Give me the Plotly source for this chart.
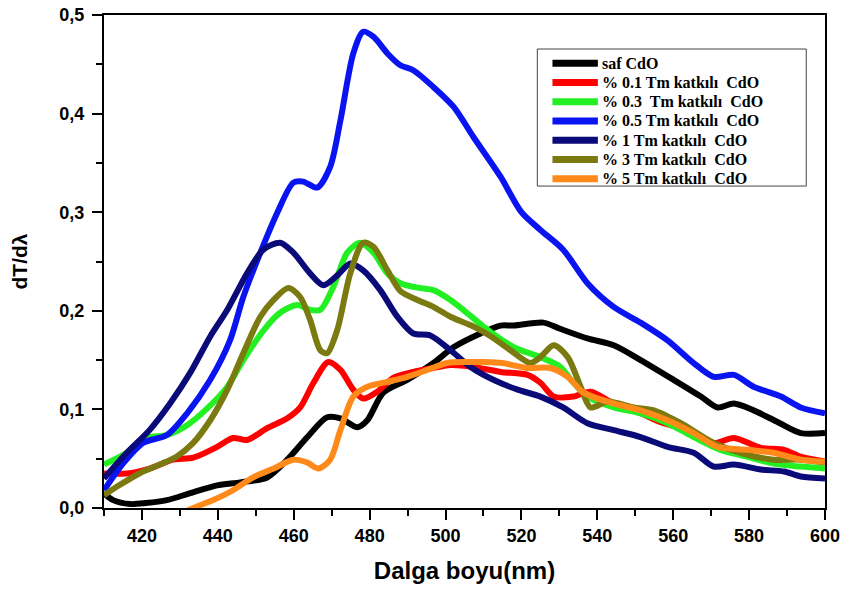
import plotly.graph_objects as go

# Wavelength (nm) and first-derivative transmittance dT/dλ for each film
wl_saf = [410, 412.4, 416.9, 421, 426.6, 432.7, 439.8, 445.9, 453, 458.3, 463.6, 468.8, 472.3, 476.8,
          479.4, 483.6, 489.9, 496.8, 502.1, 509.2, 514.5, 518, 525.8, 530, 537.4, 544.3, 551.4, 560.1,
          567.3, 571.7, 576, 581.2, 587.6, 593.6, 600]
dT_saf = [0.015, 0.008, 0.004, 0.005, 0.008, 0.015, 0.023, 0.026, 0.031, 0.049, 0.072, 0.092, 0.091, 0.082,
          0.089, 0.117, 0.13, 0.147, 0.163, 0.177, 0.185, 0.185, 0.188, 0.182, 0.172, 0.165, 0.15, 0.13,
          0.113, 0.102, 0.106, 0.099, 0.087, 0.076, 0.076]

wl_01 = [410, 416, 422, 428.2, 433.5, 439.8, 444, 447.7, 453, 458.3, 461.7, 465.2, 469.1, 472.3, 475.7,
         478.3, 482, 486.2, 491.5, 496.8, 501.3, 507.4, 514.5, 521.6, 525, 528.5, 533.7, 538.2, 544.3,
         551.4, 556.7, 563.8, 570.7, 576, 583.1, 589.2, 593.6, 600]
dT_01 = [0.035, 0.035, 0.04, 0.049, 0.051, 0.062, 0.071, 0.069, 0.081, 0.091, 0.102, 0.127, 0.148, 0.14, 0.12,
         0.111, 0.118, 0.132, 0.138, 0.142, 0.145, 0.143, 0.138, 0.135, 0.127, 0.113, 0.113, 0.118, 0.106,
         0.096, 0.087, 0.079, 0.066, 0.071, 0.061, 0.059, 0.052, 0.047]

wl_03 = [410, 416, 421.3, 426.6, 431.9, 437.2, 442.5, 446.7, 452, 456.4, 460.9, 464.3, 467, 470.4, 474.1,
         477.5, 481, 484.7, 488.1, 493.4, 496.8, 501.3, 505, 510, 518, 525, 530.3, 533.7, 537.4, 544.3,
         551.4, 558.5, 565.4, 572.5, 579.6, 586.5, 593.6, 600]
dT_03 = [0.044, 0.056, 0.071, 0.074, 0.084, 0.101, 0.123, 0.15, 0.18, 0.198, 0.206, 0.201, 0.201, 0.224, 0.259,
         0.269, 0.259, 0.238, 0.228, 0.223, 0.221, 0.211, 0.2, 0.184, 0.163, 0.153, 0.143, 0.127, 0.113, 0.102,
         0.096, 0.086, 0.072, 0.059, 0.052, 0.045, 0.042, 0.04]

wl_05 = [410, 415, 420.3, 426.6, 431.9, 438, 443.2, 446.7, 451.2, 455.6, 459.9, 462.5, 466.2, 469.6, 472.3,
         475.7, 478.3, 481, 484.7, 488.1, 491.5, 496.8, 502.1, 507.4, 514.5, 520, 525, 531, 537.4, 544.3,
         551.4, 558.5, 565.4, 570.7, 576, 581.2, 588.4, 593.6, 600]
dT_05 = [0.018, 0.045, 0.066, 0.074, 0.096, 0.13, 0.17, 0.214, 0.259, 0.299, 0.33, 0.331, 0.325, 0.346, 0.393,
         0.461, 0.483, 0.478, 0.461, 0.449, 0.444, 0.427, 0.407, 0.376, 0.336, 0.3, 0.282, 0.262, 0.228, 0.204,
         0.188, 0.17, 0.147, 0.133, 0.135, 0.123, 0.113, 0.102, 0.096]

wl_1 = [410, 416, 422, 427.4, 432.7, 438, 442.5, 447.7, 452, 456.4, 459.9, 464.3, 467.8, 471.5, 474.9,
        478.3, 482.8, 487.3, 491.5, 496, 501.3, 506.6, 512.6, 519, 525, 531, 537.4, 544.3, 551.4, 558.5,
        565.4, 570.7, 576, 583.1, 589.2, 593.6, 600]
dT_1 = [0.03, 0.056, 0.079, 0.106, 0.137, 0.174, 0.201, 0.238, 0.262, 0.269, 0.259, 0.238, 0.226, 0.236, 0.248,
        0.241, 0.221, 0.194, 0.177, 0.175, 0.16, 0.143, 0.13, 0.12, 0.113, 0.102, 0.086, 0.079, 0.072, 0.062,
        0.056, 0.042, 0.044, 0.039, 0.037, 0.032, 0.03]

wl_3 = [410, 414, 419.3, 424.6, 429.1, 433.5, 438, 442.5, 446.7, 451.2, 454.7, 458.6, 461.7, 464.3, 467,
        468.8, 471.5, 474.9, 478.3, 481, 484.7, 488.1, 492.6, 496.8, 501.3, 507.4, 512, 517.1, 522.4, 525,
        528.5, 532.2, 535.6, 538.2, 542.7, 549.6, 554.9, 562, 570.7, 579.6, 586.5, 593.6, 600]
dT_3 = [0.013, 0.023, 0.035, 0.044, 0.052, 0.066, 0.089, 0.12, 0.157, 0.194, 0.211, 0.223, 0.214, 0.191, 0.16,
        0.157, 0.181, 0.238, 0.269, 0.265, 0.241, 0.22, 0.211, 0.204, 0.194, 0.184, 0.174, 0.16, 0.147, 0.153,
        0.165, 0.153, 0.123, 0.102, 0.108, 0.102, 0.099, 0.086, 0.066, 0.054, 0.049, 0.049, 0.046]

wl_5 = [428, 433.5, 438.8, 444, 449.3, 454.7, 459.9, 463.6, 466.5, 469.6, 472.3, 475.7, 479.4, 484.7, 489.9,
        495.2, 500.5, 505.8, 510, 515, 521.6, 527.7, 532.2, 536.4, 544.3, 551.4, 558.5, 565.4, 571.7, 579.6,
        586.5, 593.6, 600]
dT_5 = [-0.01, 0.0, 0.008, 0.018, 0.031, 0.04, 0.049, 0.046, 0.04, 0.049, 0.079, 0.113, 0.123, 0.128, 0.133,
        0.14, 0.147, 0.148, 0.148, 0.147, 0.142, 0.142, 0.133, 0.117, 0.106, 0.099, 0.089, 0.076, 0.062, 0.059,
        0.056, 0.049, 0.047]

names = ["saf CdO", "% 0.1 Tm katkılı  CdO", "% 0.3  Tm katkılı  CdO", "% 0.5 Tm katkılı  CdO",
         "% 1 Tm katkılı  CdO", "% 3 Tm katkılı  CdO", "% 5 Tm katkılı  CdO"]
colors = ["#000000", "#ff0000", "#22f022", "#0a14f0", "#0a0a78", "#7a7a10", "#ff8a1a"]
series = [(wl_saf, dT_saf), (wl_01, dT_01), (wl_03, dT_03), (wl_05, dT_05),
          (wl_1, dT_1), (wl_3, dT_3), (wl_5, dT_5)]

fig = go.Figure()
for (x, y), name, col in zip(series, names, colors):
    fig.add_trace(go.Scatter(
        x=x, y=y, mode="lines", name=name, showlegend=False,
        line=dict(color=col, width=6, shape="spline", smoothing=0.8),
    ))

# Boxed key in the upper right of the plotting area (paper coordinates)
key_left, key_right, key_top, key_bottom = 0.601, 0.974, 0.931, 0.653
row_top, row_step = 0.902, 0.039
swatch_x0, swatch_x1, text_x = 0.622, 0.685, 0.688

shapes = [dict(type="rect", xref="paper", yref="paper",
               x0=key_left, x1=key_right, y0=key_bottom, y1=key_top,
               line=dict(color="#444444", width=1), fillcolor="white", layer="above")]
annotations = []
for i, (name, col) in enumerate(zip(names, colors)):
    yy = row_top - i * row_step
    shapes.append(dict(type="line", xref="paper", yref="paper",
                       x0=swatch_x0, x1=swatch_x1, y0=yy, y1=yy,
                       line=dict(color=col, width=7), layer="above"))
    annotations.append(dict(xref="paper", yref="paper", x=text_x, y=yy,
                            xanchor="left", yanchor="middle", showarrow=False,
                            text=f"<b>{name}</b>",
                            font=dict(family="Liberation Serif, Times New Roman", size=16, color="black")))

sans = "Liberation Sans, Arial"
fig.update_layout(
    width=842, height=592,
    margin=dict(l=104, r=17, t=15, b=84),
    paper_bgcolor="white", plot_bgcolor="white",
    separators=",.",
    showlegend=False,
    shapes=shapes,
    annotations=annotations,
    xaxis=dict(
        range=[410, 600], dtick=20, tick0=420, automargin=False,
        showgrid=False, zeroline=False,
        showline=True, linecolor="black", linewidth=2, mirror=True,
        ticks="outside", ticklen=10, tickwidth=2, tickcolor="black",
        minor=dict(dtick=10, tick0=410, ticks="outside", ticklen=6, tickwidth=2, tickcolor="black"),
        tickfont=dict(family=sans, size=18, color="black", weight="bold"),
        title=dict(text="<b>Dalga boyu(nm)</b>", font=dict(family=sans, size=24, color="black"),
                   standoff=18),
    ),
    yaxis=dict(
        range=[0, 0.5], dtick=0.1, tickformat=".1f", automargin=False,
        showgrid=False, zeroline=False,
        showline=True, linecolor="black", linewidth=2, mirror=True,
        ticks="outside", ticklen=10, tickwidth=2, tickcolor="black", ticklabelstandoff=4,
        minor=dict(dtick=0.05, ticks="outside", ticklen=6, tickwidth=2, tickcolor="black"),
        tickfont=dict(family=sans, size=18, color="black", weight="bold"),
        title=dict(text="<b>dT/dλ</b>", font=dict(family=sans, size=21, color="black"),
                   standoff=26),
    ),
)

fig.write_html("out.html")
